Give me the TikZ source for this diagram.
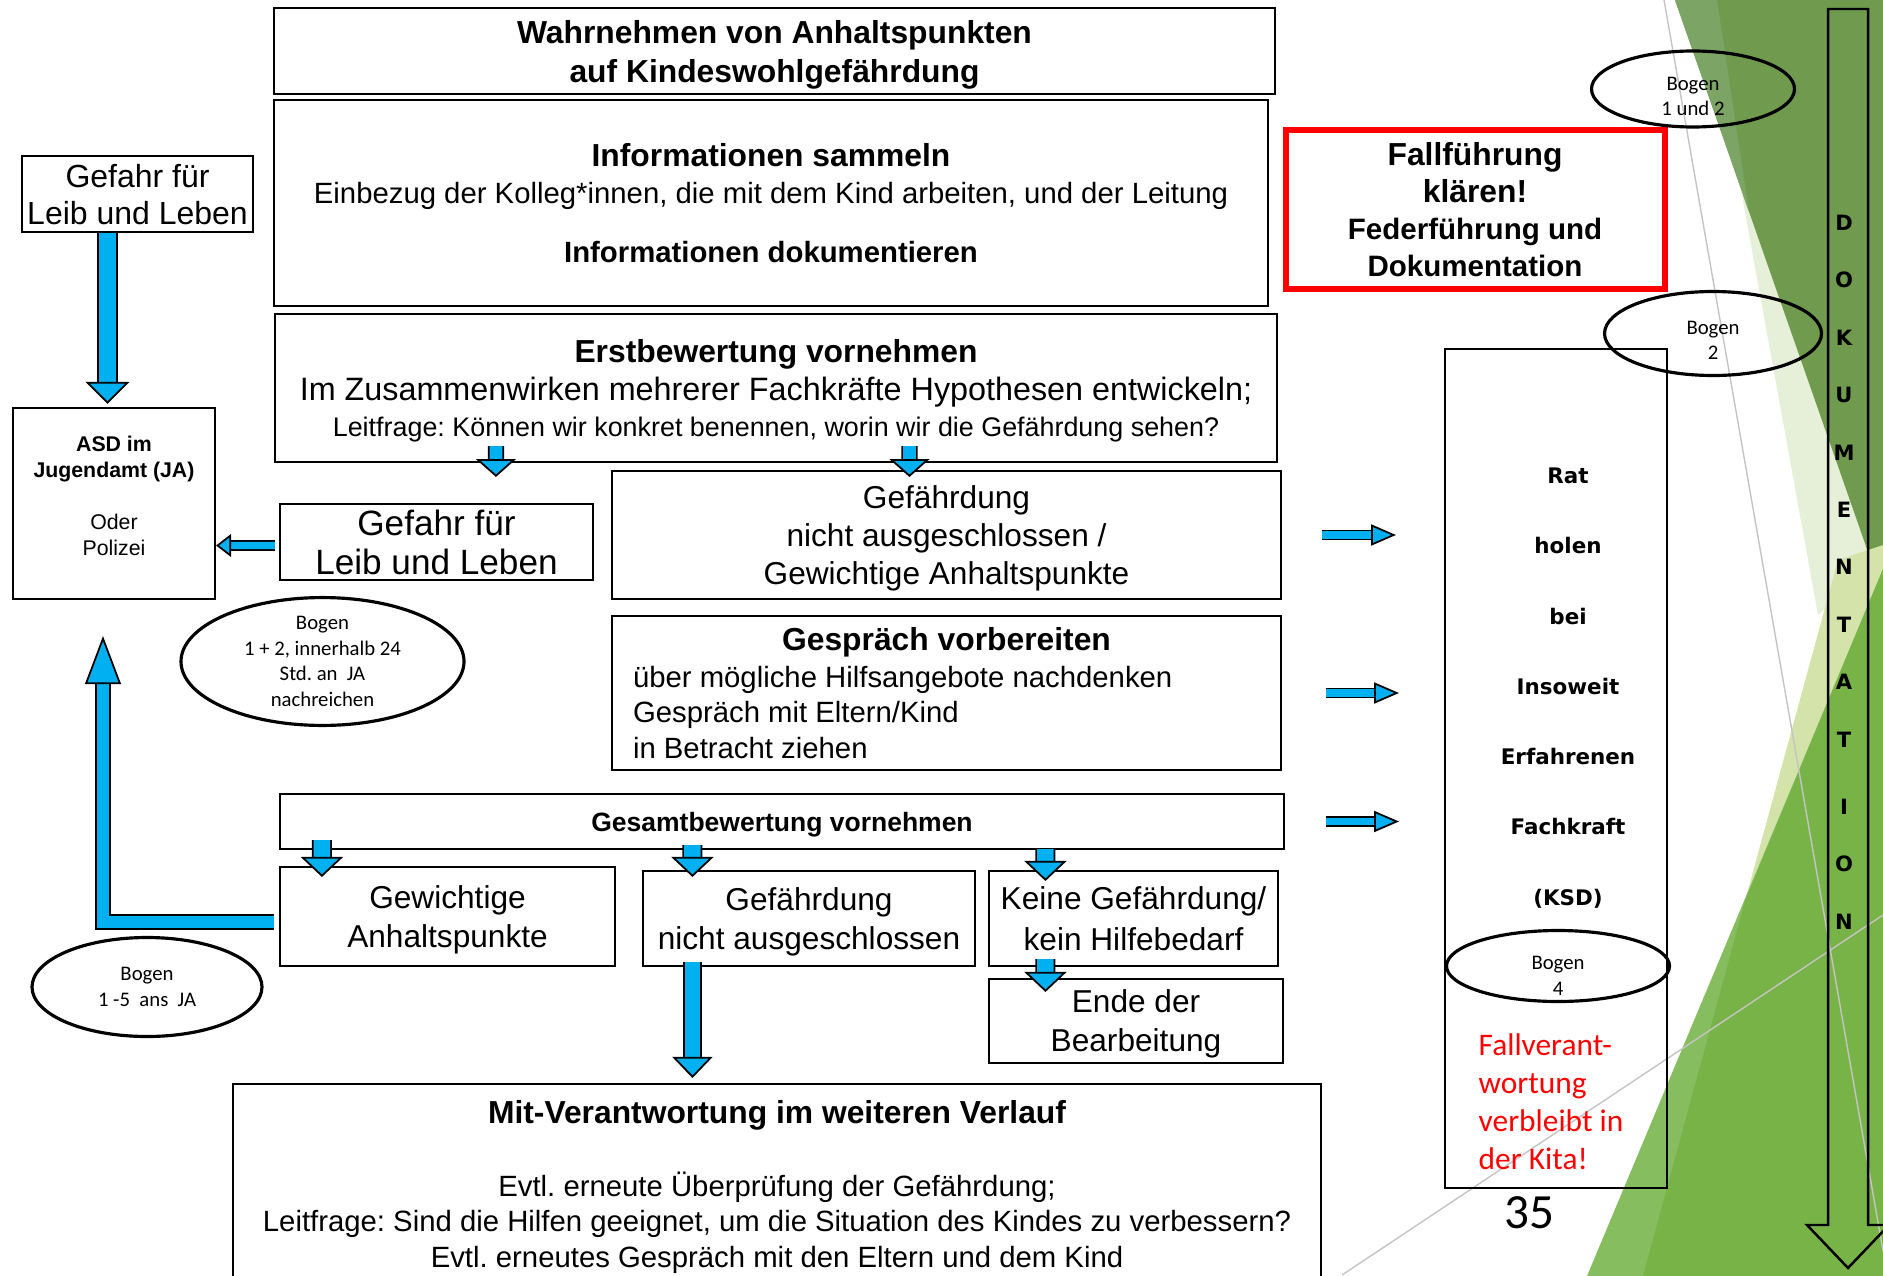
\documentclass[tikz,border=0pt]{standalone}
\usepackage{fontspec}
\setmainfont{Liberation Sans}
\newfontfamily\calib{Carlito}
\newfontfamily\dejav{DejaVu Sans}
\frenchspacing
\usepackage{xcolor}
\definecolor{arrowblue}{HTML}{00B0F0}
\definecolor{alarmred}{HTML}{FF0000}
\definecolor{olive1}{HTML}{709B4E}
\definecolor{olive2}{HTML}{7BA465}
\definecolor{pale1}{HTML}{E6EFD8}
\definecolor{pale2}{HTML}{D3E3A9}
\definecolor{leaf1}{HTML}{78B348}
\definecolor{leaf2}{HTML}{86BD5E}
\definecolor{faint}{HTML}{C4C4C4}
\usepackage{tikz}
\usetikzlibrary{arrows.meta,shapes.geometric}
\newcommand{\fsz}[2]{\fontsize{#1}{#2}\selectfont}

\begin{document}
\begin{tikzpicture}[
    box/.style={draw, line width=0.6pt, inner sep=1pt, align=center, text depth=0pt},
    bogentext/.style={align=center, inner sep=0pt, font=\calib\fsz{5.9}{7.3}},
    bogen/.style={ellipse, draw, line width=0.9pt, bogentext},
    blk/.style n args={3}{draw=black, line width=0.5pt, double=arrowblue, double distance=#1, -{Triangle[width=#2, length=#3, fill=arrowblue]}}]
  \useasboundingbox (0,0) rectangle (18.83,12.75);
  % background facets
  \fill[pale1] (17.41,10.85) -- (18.83,7.15) -- (18.18,6.60) -- cycle;
  \fill[olive1] (16.75,12.75) -- (18.83,12.75) -- (18.83,6.80) -- cycle;
  \fill[olive2] (16.75,12.75) -- (17.17,12.75) -- (17.49,10.63) -- cycle;
  \fill[pale2] (17.45,3.74) -- (18.38,7.15) -- (18.83,7.30) -- (18.83,5.75) -- cycle;
  \fill[leaf2] (15.87,-0.01) -- (18.83,7.06) -- (18.83,-0.01) -- cycle;
  \fill[leaf1] (16.43,-0.01) -- (17.45,3.74) -- (18.83,7.06) -- (18.83,-0.01) -- cycle;
  \draw[faint, line width=0.4pt] (16.64,12.75) -- (18.83,0.24);
  \draw[faint, line width=0.4pt] (13.42,0) -- (18.83,3.60);

  % main column
  \node[box, minimum width=10.01cm, minimum height=0.86cm, font=\fsz{9.05}{11.1}\bfseries] (wahrnehmen) at (7.745,12.24) {Wahrnehmen von Anhaltspunkten\\auf Kindeswohlgefährdung};
  \node[box, minimum width=9.94cm, minimum height=2.06cm, font=\fsz{8.34}{10.5}] (info) at (7.71,10.72) {{\bfseries\fsz{9.05}{10.5}Informationen sammeln}\\Einbezug der Kolleg*innen, die mit dem Kind arbeiten, und der Leitung\\[6.5pt]{\bfseries Informationen dokumentieren}};
  \node[box, minimum width=10.02cm, minimum height=1.48cm, font=\fsz{9.2}{10.2}] (erst) at (7.76,8.87) {{\bfseries\fsz{9.05}{10.2}Erstbewertung vornehmen}\\[0.8pt]Im Zusammenwirken mehrerer Fachkräfte Hypothesen entwickeln;\\{\fsz{7.65}{10.2}Leitfrage: Können wir konkret benennen, worin wir die Gefährdung sehen?}};
  \node[box, minimum width=6.69cm, minimum height=1.28cm, font=\fsz{9}{10.9}] (gefaehrdung) at (9.465,7.40) {Gefährdung\\nicht ausgeschlossen /\\Gewichtige Anhaltspunkte};
  \node[box, minimum width=6.69cm, minimum height=1.54cm, font=\fsz{8.34}{10.2}] (gespraech) at (9.465,5.82) {{\bfseries\fsz{9.05}{10.2}Gespräch vorbereiten}\\[0.3pt]\makebox[6.27cm][l]{über mögliche Hilfsangebote nachdenken}\\\makebox[6.27cm][l]{Gespräch mit Eltern/Kind}\\\makebox[6.27cm][l]{in Betracht ziehen}};
  \node[box, minimum width=10.04cm, minimum height=0.55cm, font=\fsz{7.54}{9}\bfseries] (gesamt) at (7.82,4.535) {Gesamtbewertung vornehmen};
  \node[box, minimum width=3.35cm, minimum height=0.99cm, font=\fsz{9}{11.3}] (gew) at (4.475,3.585) {Gewichtige\\Anhaltspunkte};
  \node[box, minimum width=3.32cm, minimum height=0.95cm, font=\fsz{9}{11.1}] (gef2) at (8.09,3.565) {Gefährdung\\nicht ausgeschlossen};
  \node[box, minimum width=2.89cm, minimum height=0.95cm, font=\fsz{9}{11.5}] (keine) at (11.335,3.565) {Keine Gefährdung/\\kein Hilfebedarf};
  \node[box, minimum width=2.94cm, minimum height=0.84cm, font=\fsz{9}{11.1}] (ende) at (11.36,2.54) {Ende der\\Bearbeitung};
  \node[box, anchor=north, minimum width=10.88cm, inner ysep=0.16cm, font=\fsz{8.34}{10.1}] (mit) at (7.77,1.92) {{\bfseries\fsz{9.05}{10.1}Mit-Verantwortung im weiteren Verlauf}\\[10.7pt]Evtl. erneute Überprüfung der Gefährdung;\\Leitfrage: Sind die Hilfen geeignet, um die Situation des Kindes zu verbessern?\\Evtl. erneutes Gespräch mit den Eltern und dem Kind};

  % left column
  \node[box, minimum width=2.31cm, minimum height=0.76cm, font=\fsz{9.1}{10.5}] (gefahrA) at (1.375,10.81) {Gefahr für\\Leib und Leben};
  \node[box, minimum width=2.02cm, minimum height=1.91cm, text depth=4.6pt, font=\fsz{6.06}{7.4}] (asd) at (1.14,7.715) {\textbf{ASD im}\\\textbf{Jugendamt (JA)}\\[7.4pt]Oder\\Polizei};
  \node[box, minimum width=3.13cm, minimum height=0.76cm, font=\fsz{10}{11.1}] (gefahrB) at (4.365,7.33) {Gefahr für\\Leib und Leben};
  \node[bogen, minimum width=2.83cm, minimum height=1.23cm] (bogenJA) at (3.225,6.135) {Bogen\\1 + 2, innerhalb 24\\Std. an\ \ JA\\nachreichen};
  \node[bogen, minimum width=2.30cm, minimum height=0.99cm] (bogenAlle) at (1.47,2.88) {Bogen\\1 -5\ \ ans\ \ JA};

  % right column
  \node[box, draw=alarmred, line width=1.7pt, minimum width=3.79cm, minimum height=1.59cm, font=\fsz{8.4}{10.5}\bfseries] (fall) at (14.75,10.655) {{\fsz{9.05}{10.5}Fallführung}\\{\fsz{9.05}{10.5}klären!}\\Federführung und\\Dokumentation};
  \node[box, minimum width=2.22cm, minimum height=8.39cm] (rat) at (15.56,5.065) {};
  \node[font=\dejav\bfseries\fsz{6.1}{20}, align=center] (rattext) at (15.68,5.87) {Rat\\holen\\bei\\Insoweit\\Erfahrenen\\Fachkraft\\(KSD)};
  \node[bogen, minimum width=2.23cm, minimum height=0.71cm] (bogenKSD) at (15.58,3.09) {};
  \node[bogentext] (bogenKSDtext) at (15.58,2.99) {Bogen\\4};
  \node[font=\calib\fsz{8.93}{10.8}, text=alarmred, align=left, anchor=west, inner sep=0pt] (kita) at (14.78,1.735) {Fallverant-\\wortung\\verbleibt in\\der Kita!};
  \node[font=\calib\fsz{14}{16}] (seite) at (15.29,0.62) {35};
  \node[bogen, minimum width=2.03cm, minimum height=0.76cm] (bogenEins) at (16.93,11.86) {};
  \node[bogentext] (bogenEinsText) at (16.93,11.785) {Bogen\\1 und 2};
  \node[bogen, minimum width=2.17cm, minimum height=0.84cm] (bogenZwei) at (17.13,9.415) {};
  \node[bogentext] (bogenZweiText) at (17.13,9.345) {Bogen\\2};

  % Dokumentation arrow
  \draw[line width=0.7pt] (18.28,12.66) -- (18.68,12.66) -- (18.68,0.50) -- (18.89,0.50) -- (18.48,0.07) -- (18.07,0.50) -- (18.28,0.50) -- cycle;
  \node[font=\dejav\bfseries\fsz{6}{16.35}, align=center] (doku) at (18.44,7.03) {D\\O\\K\\U\\M\\E\\N\\T\\A\\T\\[2.7pt]I\\O\\N};

  % blue arrows
  \draw[blk={5pt}{12.5pt}{6.3pt}, shorten >=0.03cm] ([xshift=-0.3cm]gefahrA.south) -- ([xshift=-0.065cm]asd.north);
  \draw[blk={3.6pt}{11.4pt}{5.1pt}, shorten >=0.26cm] ([xshift=2.22cm, yshift=0.17cm]erst.south west) -- ([xshift=2.17cm]gefahrB.north west);
  \draw[blk={3.6pt}{11.4pt}{5.1pt}] ([xshift=6.355cm, yshift=0.17cm]erst.south west) -- ([xshift=2.985cm, yshift=-0.07cm]gefaehrdung.north west);
  \draw[blk={2.1pt}{6.5pt}{4.3pt}, shorten <=0.04cm] ([yshift=-0.035cm]gefahrB.west) -- ([yshift=-0.42cm]asd.east);
  \draw[blk={2.1pt}{6pt}{7.1pt}, shorten <=0.4cm, shorten >=0.48cm] (gefaehrdung.east) -- (gefaehrdung.east -| rat.west);
  \draw[blk={2.1pt}{6pt}{7.1pt}, shorten <=0.44cm, shorten >=0.45cm] (gespraech.east) -- (gespraech.east -| rat.west);
  \draw[blk={2.1pt}{6pt}{7.1pt}, shorten <=0.41cm, shorten >=0.45cm] (gesamt.east) -- (gesamt.east -| rat.west);
  \draw[blk={4.7pt}{12pt}{5.7pt}] ([xshift=0.43cm, yshift=0.1cm]gesamt.south west) -- ([xshift=0.43cm, yshift=-0.11cm]gew.north west);
  \draw[blk={4.7pt}{12pt}{5.7pt}] ([xshift=4.135cm, yshift=0.05cm]gesamt.south west) -- ([xshift=0.505cm, yshift=-0.07cm]gef2.north west);
  \draw[blk={4.7pt}{12pt}{5.7pt}] ([xshift=7.665cm, yshift=0.01cm]gesamt.south west) -- ([xshift=0.575cm, yshift=-0.11cm]keine.north west);
  \draw[blk={4.7pt}{12pt}{5.7pt}] ([xshift=0.575cm, yshift=0.08cm]keine.south west) -- ([xshift=0.575cm, yshift=-0.14cm]ende.north west);
  \draw[blk={4.4pt}{11.4pt}{6pt}, shorten >=0.05cm] ([xshift=0.505cm, yshift=0.05cm]gef2.south west) -- ([xshift=4.605cm]mit.north west);
  \coordinate (uptip) at (1.03,6.39);
  \draw[blk={3.6pt}{10.2pt}{13.7pt}, line join=miter, shorten <=0.05cm] ([yshift=-0.055cm]gew.west) -| (uptip);
\end{tikzpicture}
\end{document}
